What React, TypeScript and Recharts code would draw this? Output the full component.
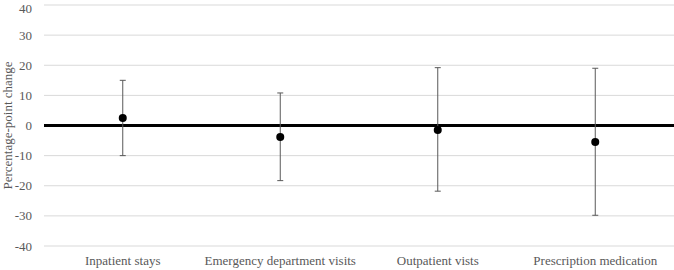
import {
  ComposedChart,
  Line,
  XAxis,
  YAxis,
  CartesianGrid,
  ReferenceLine,
  ErrorBar,
  Label,
} from 'recharts';

const categories = [
  'Inpatient stays',
  'Emergency department visits',
  'Outpatient vists',
  'Prescription medication',
];
const estimates = [2.5, -3.8, -1.5, -5.5];
const lowerBounds = [-10, -18.3, -21.8, -29.8];
const upperBounds = [15, 10.8, 19.2, 19];
const yTicks = [-40, -30, -20, -10, 0, 10, 20, 30, 40];

const data = categories.map((name, i) => ({
  name,
  value: estimates[i],
  err: [estimates[i] - lowerBounds[i], upperBounds[i] - estimates[i]],
}));

const font = 'Liberation Serif, Times New Roman, serif';

export default function App() {
  return (
    <div style={{ position: 'absolute', left: 0, top: 0, background: '#fff', fontFamily: font }}>
      <ComposedChart
        width={674}
        height={270}
        data={data}
        margin={{ top: 5, right: 0, left: 0, bottom: 0 }}
      >
        <CartesianGrid vertical={false} stroke="#d9d9d9" strokeWidth={1} />
        <XAxis
          dataKey="name"
          scale="band"
          axisLine={false}
          tickLine={false}
          tickSize={0}
          tickMargin={10}
          height={24}
          interval={0}
          tick={{ fill: '#595959', fontSize: 13, fontFamily: font }}
        />
        <YAxis
          domain={[-40, 40]}
          ticks={yTicks}
          width={44}
          axisLine={false}
          tickLine={false}
          tickSize={0}
          tickMargin={12}
          tick={{ fill: '#595959', fontSize: 13, fontFamily: font }}
        >
          <Label
            value="Percentage-point change"
            angle={-90}
            position="insideLeft"
            offset={7}
            style={{ fill: '#595959', fontSize: 13, fontFamily: font, textAnchor: 'middle' }}
          />
        </YAxis>
        <ReferenceLine y={0} stroke="#000" strokeWidth={3} />
        <Line
          dataKey="value"
          stroke="none"
          isAnimationActive={false}
          dot={{ r: 4, fill: '#000', stroke: '#000', strokeWidth: 0 }}
          activeDot={false}
        >
          <ErrorBar dataKey="err" direction="y" width={3} stroke="#595959" strokeWidth={1} />
        </Line>
      </ComposedChart>
    </div>
  );
}
